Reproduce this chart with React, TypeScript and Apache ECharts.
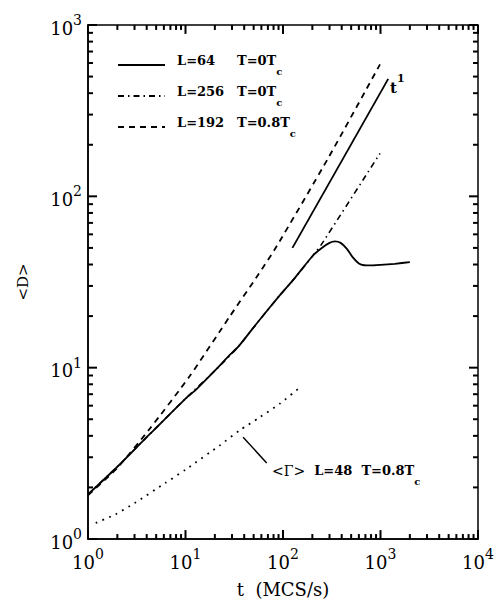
import React, { useEffect, useRef } from "react";
import * as echarts from "echarts";

// L=64, T=0Tc (solid)
const tSolid = [1, 2, 4, 5, 10, 13, 20, 28.6, 35, 55.8, 93, 130, 204, 250, 300, 341, 390, 450, 520, 600, 680, 800, 1000, 1400, 2000];
const dSolid = [1.82, 2.64, 3.93, 4.45, 6.6, 7.5, 9.6, 11.9, 13.3, 18.6, 26.5, 33, 45.3, 50, 53.5, 54.6, 53.5, 49.5, 44, 40.6, 39.6, 39.5, 39.8, 40.4, 41.3];

// L=256, T=0Tc (dash-dot)
const tDashDot = [1, 2, 4, 10, 20, 35, 55.8, 93, 130, 204, 249, 988];
const dDashDot = [1.82, 2.64, 3.93, 6.6, 9.6, 13.3, 18.6, 26.5, 33, 45.3, 52.6, 178];

// L=192, T=0.8Tc (dashed)
const tDashed = [1, 2, 4.3, 11.1, 28.6, 55.4, 84.8, 290, 988];
const dDashed = [1.8, 2.6, 4.4, 8.96, 20, 34.7, 50.4, 166.7, 589];

// <Gamma> L=48, T=0.8Tc (dotted)
const tGamma = [1.2, 1.9, 3, 6.2, 10, 22.6, 36, 58, 93, 142];
const dGamma = [1.24, 1.39, 1.62, 2.12, 2.54, 3.53, 4.31, 5.14, 6.17, 7.5];

// t^1 guide line
const tSlope = [125, 1200];
const dSlope = [50, 485];

// pointer line for the <Gamma> label
const tPointer = [39, 68];
const dPointer = [3.93, 2.78];

const X_MIN = 1;
const X_MAX = 10000;
const Y_MIN = 1;
const Y_MAX = 1000;
const MINOR_MULTS = [2, 3, 4, 5, 6, 7, 8, 9];
const X_DECADES = [1, 10, 100, 1000];
const Y_DECADES = [1, 10, 100];
const X_MAJOR = [1, 10, 100, 1000, 10000];
const Y_MAJOR = [1, 10, 100, 1000];

const SERIF = "DejaVu Serif";

const zip = (a: number[], b: number[]) => a.map((v, i) => [v, b[i]]);

export default function App() {
  const ref = useRef<HTMLDivElement>(null);
  useEffect(() => {
    if (!ref.current) return;
    const chart = echarts.init(ref.current, undefined, { renderer: "svg" });

    const labelRich = {
      b: { fontFamily: SERIF, fontSize: 18, color: "#000", lineHeight: 24, verticalAlign: "bottom" },
      s: { fontFamily: SERIF, fontSize: 14, color: "#000", lineHeight: 14, verticalAlign: "top" },
    };
    const fmt = (v: number) => `{b|10}{s|${Math.round(Math.log10(v))}}`;

    // tick lengths as multiplicative factors on the log axes
    // (x: 97.5 px per decade, y: 173.3 px per decade)
    const yMinorF = Math.pow(10, 5 / 173.3);
    const yMajorF = Math.pow(10, 9 / 173.3);
    const xMinorF = Math.pow(10, 5 / 97.5);
    const xMajorF = Math.pow(10, 9 / 97.5);

    const tickStyle = { color: "#000", width: 2 };
    const tickLines: any[] = [];
    const addTick = (pts: number[][]) =>
      tickLines.push({
        type: "line",
        showSymbol: false,
        silent: true,
        clip: false,
        z: 5,
        data: pts,
        lineStyle: tickStyle,
      });
    const xMinorVals: number[] = [];
    X_DECADES.forEach((d) => MINOR_MULTS.forEach((m) => xMinorVals.push(d * m)));
    const yMinorVals: number[] = [];
    Y_DECADES.forEach((d) => MINOR_MULTS.forEach((m) => yMinorVals.push(d * m)));

    xMinorVals.forEach((v) => {
      addTick([[v, Y_MIN], [v, Y_MIN * yMinorF]]);
      addTick([[v, Y_MAX], [v, Y_MAX / yMinorF]]);
    });
    X_MAJOR.forEach((v) => {
      addTick([[v, Y_MIN], [v, Y_MIN * yMajorF]]);
      addTick([[v, Y_MAX], [v, Y_MAX / yMajorF]]);
    });
    yMinorVals.forEach((v) => {
      addTick([[X_MIN, v], [X_MIN * xMinorF, v]]);
      addTick([[X_MAX, v], [X_MAX / xMinorF, v]]);
    });
    Y_MAJOR.forEach((v) => {
      addTick([[X_MIN, v], [X_MIN * xMajorF, v]]);
      addTick([[X_MAX, v], [X_MAX / xMajorF, v]]);
    });

    const legendRows = [
      { y: 65, dash: null as any, l: "L=64", t: "T=0T" },
      { y: 96, dash: [6, 4, 1.5, 4], l: "L=256", t: "T=0T" },
      { y: 127, dash: [6, 5], l: "L=192", t: "T=0.8T" },
    ];
    const legendRich = {
      m: { fontFamily: SERIF, fontWeight: "bold", fontSize: 13, color: "#000", lineHeight: 22, verticalAlign: "top" },
      s: { fontFamily: SERIF, fontWeight: "bold", fontSize: 10, color: "#000", lineHeight: 10, verticalAlign: "bottom" },
      g: { fontFamily: SERIF, fontSize: 14, color: "#000", lineHeight: 22, verticalAlign: "top" },
    };
    const graphics: any[] = [];
    legendRows.forEach((r) => {
      const st: any = { stroke: "#000", lineWidth: 1.8 };
      if (r.dash) st.lineDash = r.dash;
      graphics.push({ type: "line", shape: { x1: 118, y1: r.y, x2: 165, y2: r.y }, style: st });
      graphics.push({
        type: "text",
        x: 177,
        y: r.y,
        style: { text: `{m|${r.l}}`, rich: legendRich, verticalAlign: "middle", align: "left" },
      });
      graphics.push({
        type: "text",
        x: 237,
        y: r.y,
        style: { text: `{m|${r.t}}{s|c}`, rich: legendRich, verticalAlign: "middle", align: "left" },
      });
    });
    graphics.push({
      type: "text",
      x: 390,
      y: 84,
      style: {
        text: "{m|t}{u|1}",
        rich: {
          m: { fontFamily: SERIF, fontWeight: "bold", fontSize: 15, color: "#000", lineHeight: 22, verticalAlign: "bottom" },
          u: { fontFamily: SERIF, fontWeight: "bold", fontSize: 11, color: "#000", lineHeight: 11, verticalAlign: "top" },
        },
        verticalAlign: "middle",
        align: "left",
      },
    });
    graphics.push({
      type: "text",
      x: 272,
      y: 475,
      style: {
        text: "{g|<Γ>}{m|  L=48  T=0.8T}{s|c}",
        rich: legendRich,
        verticalAlign: "middle",
        align: "left",
      },
    });

    const lineBase = { type: "line", showSymbol: false };

    chart.setOption({
      animation: false,
      grid: { left: 88, right: 19, top: 25, bottom: 58, show: true, borderColor: "#000", borderWidth: 1.5 },
      xAxis: {
        type: "log",
        min: X_MIN,
        max: X_MAX,
        name: "t  (MCS/s)",
        nameLocation: "middle",
        nameGap: 41,
        nameTextStyle: { fontFamily: SERIF, fontSize: 18, color: "#000" },
        axisLine: { show: true, lineStyle: { color: "#000", width: 1.5 } },
        axisTick: { show: false },
        splitLine: { show: false },
        axisLabel: { formatter: fmt, rich: labelRich, margin: 8 },
      },
      yAxis: {
        type: "log",
        min: Y_MIN,
        max: Y_MAX,
        name: "<D>",
        nameLocation: "middle",
        nameGap: 58,
        nameRotate: 90,
        nameTextStyle: { fontFamily: SERIF, fontSize: 15, color: "#000" },
        axisLine: { show: true, lineStyle: { color: "#000", width: 1.5 } },
        axisTick: { show: false },
        splitLine: { show: false },
        axisLabel: { formatter: fmt, rich: labelRich, margin: 6 },
      },
      series: [
        { ...lineBase, data: zip(tSolid, dSolid), smooth: 0.2, lineStyle: { color: "#000", width: 1.8 } },
        { ...lineBase, data: zip(tDashDot, dDashDot), smooth: 0.2, lineStyle: { color: "#000", width: 1.6, type: [6, 4, 1.5, 4] } },
        { ...lineBase, data: zip(tDashed, dDashed), smooth: 0.2, lineStyle: { color: "#000", width: 1.8, type: [6, 5] } },
        { ...lineBase, data: zip(tGamma, dGamma), smooth: 0.2, lineStyle: { color: "#000", width: 1.8, type: [1.8, 5.5] } },
        { ...lineBase, data: zip(tSlope, dSlope), lineStyle: { color: "#000", width: 1.8 } },
        { ...lineBase, data: zip(tPointer, dPointer), lineStyle: { color: "#000", width: 1.5 } },
        ...tickLines,
      ],
      graphic: graphics,
    });
    return () => chart.dispose();
  }, []);
  return (
    <div
      ref={ref}
      style={{ position: "absolute", left: 0, top: 0, width: 497, height: 603, background: "#fff" }}
    />
  );
}
